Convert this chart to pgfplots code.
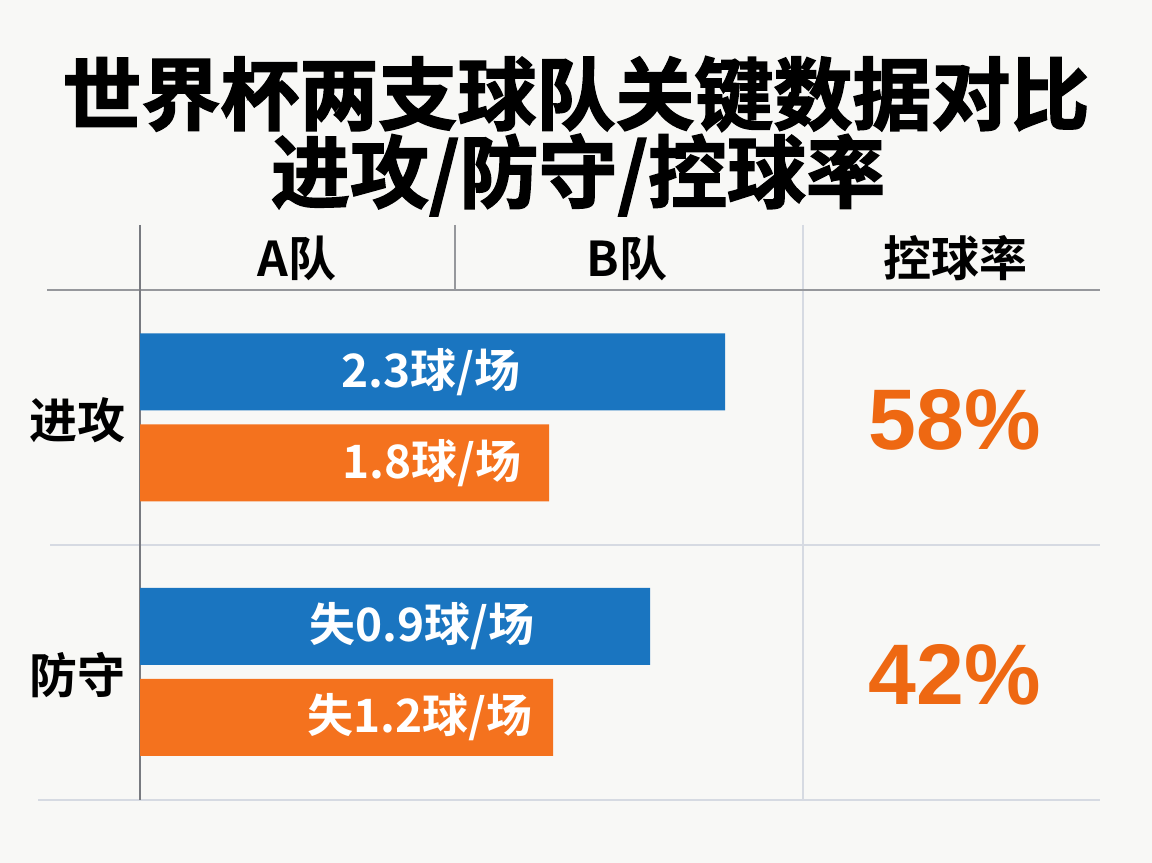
\documentclass[border=0pt]{standalone}
\usepackage{pgfplots}
\pgfplotsset{compat=1.18}
\usepackage{fontspec}
\setmainfont{Noto Sans CJK SC}[BoldFont={Noto Sans CJK SC Bold}]
\newfontfamily\titlefont{Noto Sans CJK SC Bold}[FakeBold=2]
\newfontfamily\pctfont{Liberation Sans}[BoldFont={Liberation Sans Bold}]
\definecolor{bgC}{RGB}{248,248,246}
\definecolor{blueC}{RGB}{26,117,192}
\definecolor{orangeC}{RGB}{244,114,30}
\definecolor{pctC}{RGB}{238,104,18}
\definecolor{axC}{RGB}{120,122,128}
\definecolor{hdC}{RGB}{150,152,156}
\definecolor{ltC}{RGB}{214,218,226}
\begin{document}
\begin{tikzpicture}
\begin{axis}[name=canvas, width=576bp, height=431.5bp, scale only axis,
  xmin=0, xmax=1152, ymin=0, ymax=863, y dir=reverse, hide axis, clip=false]
  \fill[bgC] (axis cs:0,0) rectangle (axis cs:1152,863);
  % grid lines
  \draw[ltC, line width=1bp] (axis cs:803,225) -- (axis cs:803,800);
  \draw[ltC, line width=1.2bp] (axis cs:50,545) -- (axis cs:1100,545);
  \draw[ltC, line width=1.2bp] (axis cs:38,800) -- (axis cs:1100,800);
  \draw[hdC, line width=1bp] (axis cs:455,225) -- (axis cs:455,290);
  \draw[hdC, line width=1.3bp] (axis cs:47,290) -- (axis cs:1100,290);
  \draw[axC, line width=1bp] (axis cs:140,225) -- (axis cs:140,800);
  % title
  \node[font=\titlefont\fontsize{39.5bp}{42bp}\selectfont, anchor=center] at (axis cs:576,94) {世界杯两支球队关键数据对比};
  \node[font=\titlefont\fontsize{39.5bp}{42bp}\selectfont, anchor=center] at (axis cs:578,175) {进攻/防守/控球率};
  % header
  \node[font=\bfseries\fontsize{24bp}{26bp}\selectfont] at (axis cs:297,258) {A队};
  \node[font=\bfseries\fontsize{24bp}{26bp}\selectfont] at (axis cs:627,258) {B队};
  \node[font=\bfseries\fontsize{24bp}{26bp}\selectfont] at (axis cs:955,258) {控球率};
  % row labels
  \node[font=\bfseries\fontsize{24bp}{26bp}\selectfont] at (axis cs:77,420) {进攻};
  \node[font=\bfseries\fontsize{24bp}{26bp}\selectfont] at (axis cs:77,675) {防守};
  % possession
  \node[font=\pctfont\bfseries\fontsize{43bp}{45bp}\selectfont, text=pctC] at (axis cs:955,420) {58\%};
  \node[font=\pctfont\bfseries\fontsize{43bp}{45bp}\selectfont, text=pctC] at (axis cs:955,675) {42\%};
  \coordinate (bo) at (axis cs:140,290);
\end{axis}
\begin{axis}[at={(bo)}, anchor=north west, width=506bp, height=255bp, scale only axis,
  xmin=0, xmax=1012, ymin=290, ymax=800, y dir=reverse, hide axis, clip=false,
  xbar, bar width=38.5bp, bar shift=0pt]
  \addplot[fill=blueC, draw=none] coordinates {(585,372) (510,626.5)};
  \addplot[fill=orangeC, draw=none] coordinates {(409,463) (413,717.5)};
  \node[font=\bfseries\fontsize{23bp}{25bp}\selectfont, text=white] at (axis cs:291,372) {2.3球/场};
  \node[font=\bfseries\fontsize{23bp}{25bp}\selectfont, text=white] at (axis cs:292,463) {1.8球/场};
  \node[font=\bfseries\fontsize{23bp}{25bp}\selectfont, text=white] at (axis cs:282,626.5) {失0.9球/场};
  \node[font=\bfseries\fontsize{23bp}{25bp}\selectfont, text=white] at (axis cs:280,717.5) {失1.2球/场};
\end{axis}
\end{tikzpicture}
\end{document}
